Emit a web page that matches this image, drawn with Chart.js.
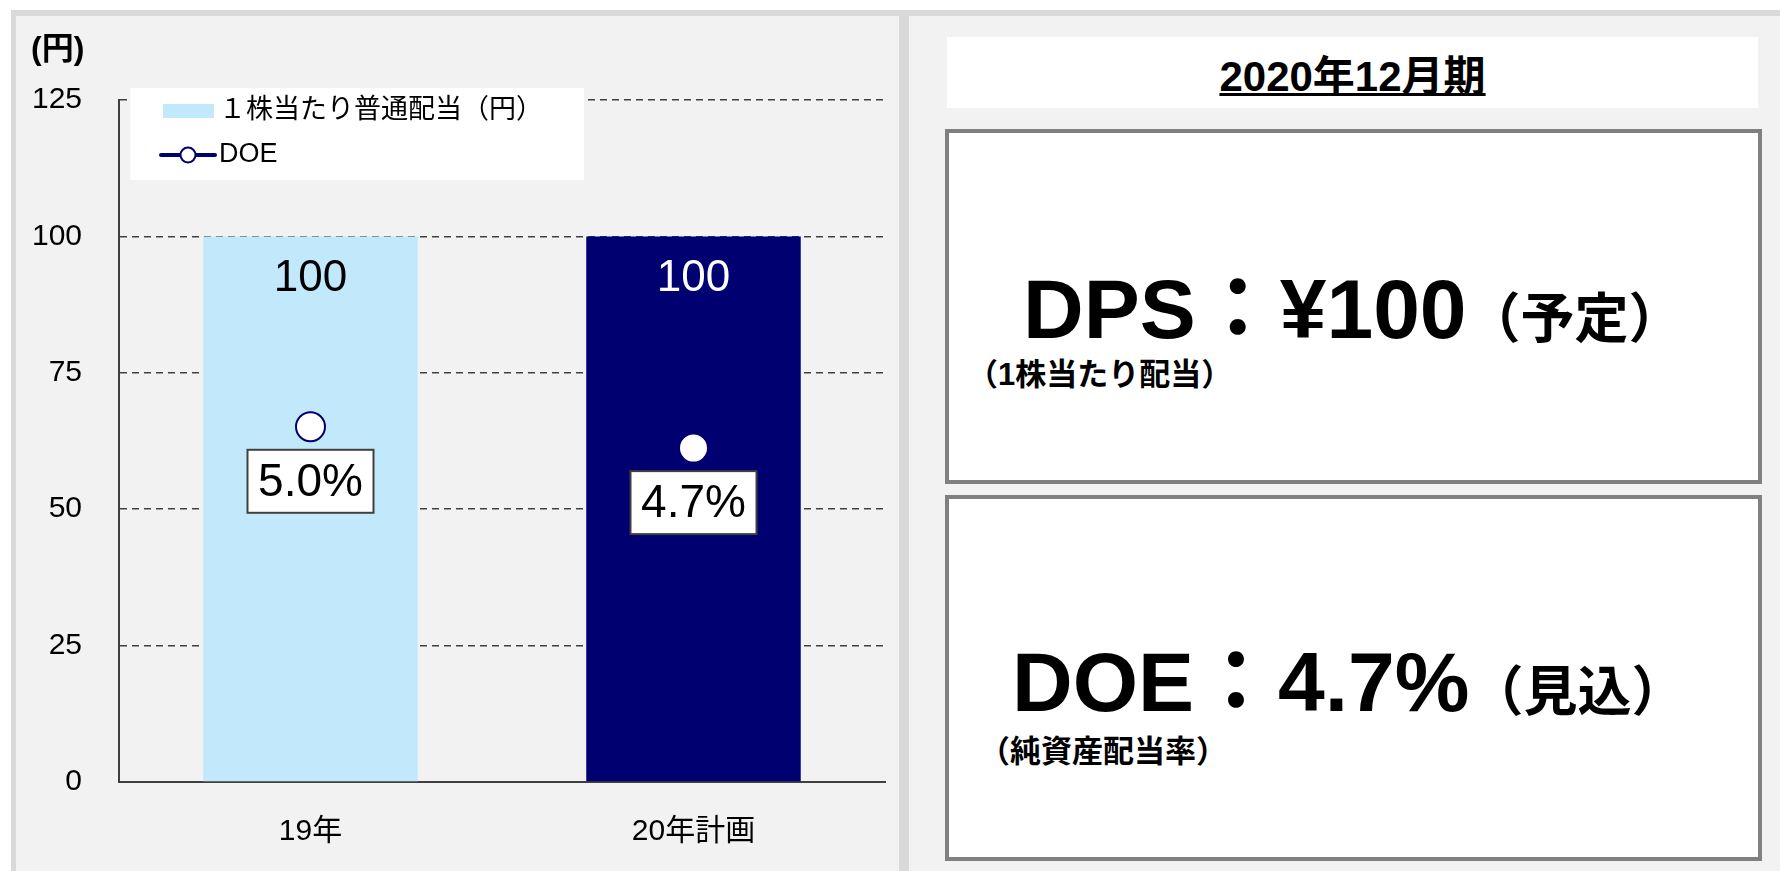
<!DOCTYPE html>
<html lang="ja">
<head>
  <meta charset="UTF-8">
  <title>配当 / DOE</title>
  <script src="https://cdn.jsdelivr.net/npm/chart.js"></script>
  <style>
    body {
      margin: 0;
      width: 1780px;
      height: 871px;
      overflow: hidden;
      position: relative;
      background: #fff;
      font-family: 'Liberation Sans', 'Noto Sans CJK JP', sans-serif;
      color: #000;
    }
    .abs { position: absolute; }
    #frame { left: 11px; top: 10px; width: 1800px; height: 900px; background: #d9d9d9; }
    .panel { background: #f2f2f2; }
    #leftPanel { left: 16px; top: 16px; width: 883px; height: 900px; }
    #rightPanel { left: 909px; top: 16px; width: 900px; height: 900px; }
    #chartCanvas { left: 16px; top: 16px; }
    #periodBox {
      left: 947px; top: 37px; width: 811px; height: 71px;
      background: #fff;
      display: flex; align-items: center; justify-content: center;
      font-size: 42px; font-weight: bold;
      text-decoration: underline; text-decoration-thickness: 3px; text-underline-offset: 2px;
    }
    .card {
      left: 945px; width: 817px;
      box-sizing: border-box;
      border: 4px solid #808080;
      background: #fff;
    }
    #dpsCard { top: 129px; height: 355px; }
    #doeCard { top: 495px; height: 366px; }
    .big { font-size: 84px; font-weight: bold; line-height: 1; white-space: nowrap; }
    .big .note { font-size: 54px; }
    .sub { font-size: 31px; font-weight: bold; line-height: 1; white-space: nowrap; }
    #dpsText { left: 1023px; top: 267px; }
    #dpsSub { left: 967px; top: 359px; }
    #doeText { left: 1012px; top: 640px; }
    #doeSub { left: 979px; top: 736px; }
  </style>
</head>
<body>
  <div id="frame" class="abs"></div>
  <div id="leftPanel" class="abs panel"></div>
  <div id="rightPanel" class="abs panel"></div>
  <canvas id="chartCanvas" class="abs" width="883" height="855"></canvas>

  <div id="periodBox" class="abs">2020年12月期</div>
  <div id="dpsCard" class="abs card"></div>
  <div id="doeCard" class="abs card"></div>
  <div id="dpsText" class="abs big"></div>
  <div id="dpsSub" class="abs sub">（1株当たり配当）</div>
  <div id="doeText" class="abs big"></div>
  <div id="doeSub" class="abs sub">（純資産配当率）</div>

  <script>
    const categories = ['19年', '20年計画'];
    const dividendValues = [100, 100];   // 1株当たり普通配当（円）
    const doeValues = [5.0, 4.7];        // DOE (%)
    const yTicks = { min: 0, max: 125, step: 25 };

    const FONT = "'Liberation Sans', 'Noto Sans CJK JP', sans-serif";
    const LIGHT = '#C1E8FB';
    const NAVY = '#000070';

    // right panel summary text, from the plan year values
    const last = categories.length - 1;
    document.getElementById('dpsText').innerHTML =
      'DPS：¥' + dividendValues[last] + '<span class="note">（予定）</span>';
    document.getElementById('doeText').innerHTML =
      'DOE：' + doeValues[last].toFixed(1) + '%<span class="note">（見込）</span>';

    function makeIcon(w, h, paint) {
      const c = document.createElement('canvas');
      c.width = w;
      c.height = h;
      paint(c.getContext('2d'));
      return c;
    }
    const barIcon = makeIcon(51, 14, g => {
      g.fillStyle = LIGHT;
      g.fillRect(0, 0, 51, 14);
    });
    const doeIcon = makeIcon(58, 20, g => {
      g.strokeStyle = NAVY;
      g.lineWidth = 4;
      g.lineCap = 'round';
      g.beginPath();
      g.moveTo(2, 10);
      g.lineTo(56, 10);
      g.stroke();
      g.beginPath();
      g.arc(29, 10, 7.5, 0, Math.PI * 2);
      g.fillStyle = '#fff';
      g.fill();
      g.lineWidth = 2;
      g.stroke();
    });
    const legendIcons = [barIcon, doeIcon];

    // value labels: number inside the bars, boxed percent under the DOE points
    const valueLabels = {
      id: 'valueLabels',
      afterDatasetsDraw(chart) {
        const ctx = chart.ctx;
        ctx.save();
        ctx.textAlign = 'center';
        ctx.textBaseline = 'middle';
        ctx.font = '44px ' + FONT;
        chart.getDatasetMeta(0).data.forEach((bar, i) => {
          ctx.fillStyle = i === 0 ? '#000' : '#fff';
          ctx.fillText(String(dividendValues[i]), bar.x, bar.y + 42);
        });
        ctx.font = '46px ' + FONT;
        chart.getDatasetMeta(1).data.forEach((pt, i) => {
          const cx = pt.x, cy = pt.y + 54.5;
          ctx.fillStyle = '#fff';
          ctx.fillRect(cx - 63, cy - 31.5, 126, 63);
          ctx.strokeStyle = '#404040';
          ctx.lineWidth = 2;
          ctx.strokeRect(cx - 63, cy - 31.5, 126, 63);
          ctx.fillStyle = '#000';
          ctx.fillText(doeValues[i].toFixed(1) + '%', cx, cy + 2);
        });
        ctx.restore();
      }
    };

    // legend sits on a white box inside the plot, over the top grid line
    const legendPanel = {
      id: 'legendPanel',
      afterLayout(chart) {
        const lg = chart.legend, a = chart.chartArea;
        lg.left = a.left + 34.5;
        lg.top = a.top - 19.5;
        lg.right = lg.left + lg.width;
        lg.bottom = lg.top + lg.height;
      },
      afterDatasetsDraw(chart) {
        const a = chart.chartArea, ctx = chart.ctx;
        ctx.save();
        ctx.fillStyle = '#fff';
        ctx.fillRect(a.left + 11.5, a.top - 12, 453.5, 92);
        ctx.restore();
        chart.legend.draw();
      }
    };

    const chart = new Chart(document.getElementById('chartCanvas'), {
      data: {
        labels: categories,
        datasets: [
          {
            type: 'bar',
            label: '１株当たり普通配当（円）',
            data: dividendValues,
            backgroundColor: [LIGHT, NAVY],
            categoryPercentage: 1,
            barPercentage: 0.56,
            yAxisID: 'y',
            order: 1
          },
          {
            type: 'line',
            label: 'DOE',
            data: doeValues,
            showLine: false,
            pointStyle: 'circle',
            pointRadius: 14.5,
            pointBorderWidth: 2,
            pointBackgroundColor: '#fff',
            pointBorderColor: NAVY,
            borderColor: NAVY,
            yAxisID: 'y2',
            order: 0
          }
        ]
      },
      options: {
        responsive: false,
        animation: false,
        devicePixelRatio: 1,
        layout: { autoPadding: false, padding: { left: 15, right: 14, top: 0, bottom: 0 } },
        plugins: {
          title: {
            display: true,
            text: '(円)',
            align: 'start',
            color: '#000',
            font: { family: FONT, size: 32, weight: 'bold' },
            padding: { top: 14.8, bottom: 30.8 }
          },
          legend: {
            position: 'chartArea',
            align: 'start',
            labels: {
              usePointStyle: true,
              pointStyleWidth: 35,
              padding: 17,
              color: '#000',
              font: { family: FONT, size: 27 },
              generateLabels: (c) => c.data.datasets.map((ds, i) => ({
                text: ds.label,
                pointStyle: legendIcons[i],
                datasetIndex: i,
                hidden: false,
                lineWidth: 0,
                fillStyle: 'transparent',
                strokeStyle: 'transparent',
                fontColor: '#000'
              }))
            }
          },
          tooltip: { enabled: false }
        },
        scales: {
          x: {
            grid: { display: false },
            border: { color: '#404040', width: 2 },
            ticks: { color: '#000', font: { family: FONT, size: 30 }, padding: 24 },
            afterFit: (s) => { s.height = 89; }
          },
          y: {
            min: yTicks.min,
            max: yTicks.max,
            ticks: { stepSize: yTicks.step, padding: 37, color: '#000', font: { family: FONT, size: 30 } },
            grid: { drawTicks: false, color: '#404040', lineWidth: 1.5 },
            border: { color: '#404040', width: 2, dash: [7, 5] },
            afterFit: (s) => { s.width = 88; }
          },
          y2: {
            display: false,
            min: 0,
            max: 9.6
          }
        }
      },
      plugins: [legendPanel, valueLabels]
    });
  </script>
</body>
</html>
